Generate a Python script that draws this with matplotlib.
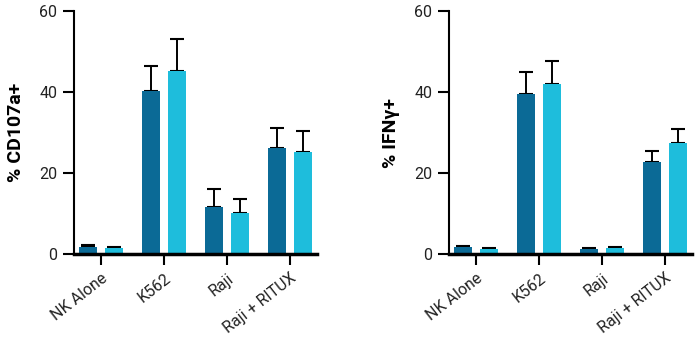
import matplotlib
matplotlib.use("Agg")
import matplotlib.pyplot as plt
import numpy as np

plt.rcParams['font.family'] = ['Roboto', 'DejaVu Sans']

categories = ["NK Alone", "K562", "Raji", "Raji + RITUX"]

cd107a_dark = [1.8, 40.3, 11.7, 26.1]
cd107a_dark_err = [0.3, 6.1, 4.3, 4.9]
cd107a_light = [1.4, 45.2, 10.2, 25.2]
cd107a_light_err = [0.4, 7.8, 3.5, 5.2]

ifng_dark = [1.8, 39.5, 1.2, 22.8]
ifng_dark_err = [0.2, 5.5, 0.2, 2.6]
ifng_light = [1.2, 42.0, 1.6, 27.4]
ifng_light_err = [0.2, 5.6, 0.2, 3.5]

ylabels = ["% CD107a+", "% IFNγ+"]
yticks = [0, 20, 40, 60]

dark_color = "#0b6a96"
light_color = "#1ebddc"

fig = plt.figure(figsize=(7.0, 3.37), dpi=100)
ax1 = fig.add_axes([74/700, 1-254/337, 243/700, 243/337])
ax2 = fig.add_axes([449/700, 1-254/337, 243/700, 243/337])

x = np.arange(len(categories))
off = 0.205
w = 0.285

for ax, d, de, l, le, lab in [
    (ax1, cd107a_dark, cd107a_dark_err, cd107a_light, cd107a_light_err, ylabels[0]),
    (ax2, ifng_dark, ifng_dark_err, ifng_light, ifng_light_err, ylabels[1]),
]:
    ax.bar(x - off, d, w, color=dark_color, zorder=2)
    ax.bar(x + off, l, w, color=light_color, zorder=2)
    ekw = dict(fmt='none', ecolor='black', elinewidth=1.4, capsize=5, capthick=1.5, zorder=1)
    ax.errorbar(x - off, d, yerr=[np.zeros(len(d)), de], **ekw)
    ax.errorbar(x + off, l, yerr=[np.zeros(len(l)), le], **ekw)
    ax.set_ylim(0, 60)
    ax.set_xlim(-0.43, 3.43)
    ax.set_yticks(yticks)
    ax.set_xticks(x)
    ax.set_xticklabels(categories, rotation=38, ha='right', rotation_mode='anchor', fontsize=11.5, color='#222222')
    ax.tick_params(axis='y', length=8, width=1.5, labelsize=11.5, labelcolor='#222222', pad=4)
    ax.tick_params(axis='x', length=8, width=1.5, pad=4)
    for s in ['top', 'right']:
        ax.spines[s].set_visible(False)
    ax.spines['left'].set_linewidth(1.5)
    ax.spines['bottom'].set_linewidth(2.5)
    ax.set_ylabel(lab, fontsize=14, fontweight='bold', labelpad=10)

fig.savefig("out.png", dpi=100)
